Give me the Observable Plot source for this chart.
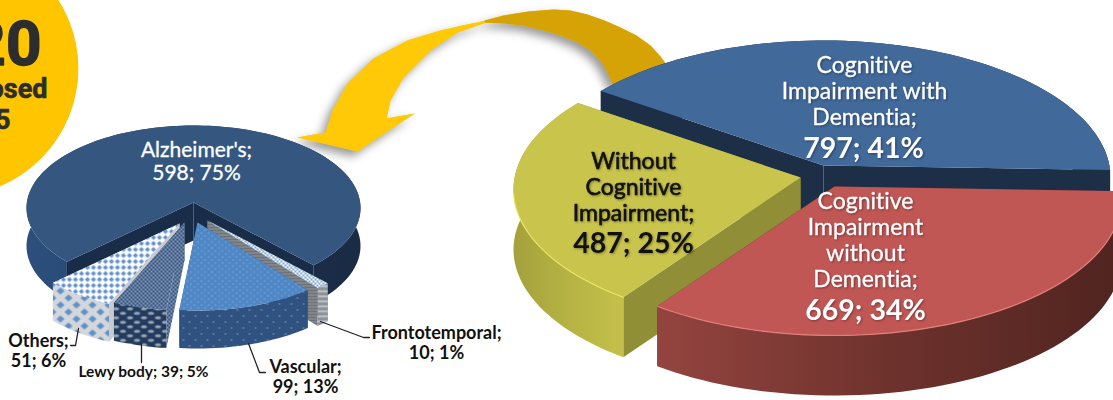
<!DOCTYPE html>
<html>
<head>
<meta charset="utf-8">
<script src="https://cdn.jsdelivr.net/npm/d3@7"></script>
<script src="https://cdn.jsdelivr.net/npm/@observablehq/plot@0.6"></script>
<style>
html,body{margin:0;padding:0;background:#fff;overflow:hidden;width:1113px;height:400px}
svg{display:block}
text{font-variant-ligatures:none}
</style>
</head>
<body>
<div id="chart"></div>
<script>
// ---- data ----
const cognitionNames = ["Cognitive\nImpairment with\nDementia;", "Cognitive\nImpairment\nwithout\nDementia;", "Without\nCognitive\nImpairment;"];
const cognitionValues = [797, 669, 487];
const cognitionPercents = [41, 34, 25];

const dementiaNames = ["Alzheimer's", "Frontotemporal", "Vascular", "Lewy body", "Others"];
const dementiaValues = [598, 10, 99, 39, 51];
const dementiaPercents = [75, 1, 13, 5, 6];

const badgeLines = ["20", "osed", "5"];

// ---- layout ----
const FONT = "Lato, 'Open Sans', sans-serif";
const BADGE = "'Liberation Sans Narrow', Roboto, sans-serif";
const rightPie = {rx: 287, ry: 137, off: 12, depth: 60, start: -145,
  slices: [
    {cx: 823, ay: 165, face: "#41699a", wall: "#1c2f47", cut: "#1c2f47", rim: null},
    {cx: 834, ay: 186, face: "#c05755", wall: "url(#gRed)", cut: "#5a2a26", rim: "#e27f7a"},
    {cx: 800, ay: 177, face: "#c9c44c", wall: "url(#gYel)", cut: "#908e37", rim: "#ebe564"}
  ],
  order: [0, 2, 1]};
const leftPie = {rx: 167, ry: 82.5, off: 5.5, depth: 38, start: 136.5,
  slices: [
    {cx: 193, ay: 202, face: "#35577f", wall: "url(#gAlz)", cut: "#1a2d48", rim: null},
    {cx: 207, ay: 220, face: "url(#pFrontF)", wall: "url(#pFrontS)", cut: "url(#pFrontC)", rim: null},
    {cx: 197, ay: 222, face: "url(#pVascF)", wall: "url(#pVascS)", cut: "#2e5180", rim: null},
    {cx: 184, ay: 222, face: "url(#pLewyF)", wall: "url(#pLewyS)", cut: "url(#pLewyF)", rim: null},
    {cx: 179, ay: 223, face: "url(#pOthF)", wall: "url(#pOthS)", cut: "#c9cbce", rim: null}
  ],
  order: [0, 4, 3, 1, 2]};

// point of the slanted rim seen from a slice's apex
function rimPoint(p, s, deg) {
  const a = deg * Math.PI / 180, u = Math.cos(a), v = Math.sin(a), o = p.off / p.ry;
  const t = v * o + Math.sqrt(v * v * o * o + 1 - o * o);
  return {x: s.cx + t * p.rx * u, y: s.ay + t * p.ry * v};
}
function arc(p, s, a0, a1) {
  const n = Math.max(2, Math.ceil(Math.abs(a1 - a0) / 2));
  return d3.range(n + 1).map(i => rimPoint(p, s, a0 + (a1 - a0) * i / n));
}
const down = (pts, d) => pts.map(q => ({x: q.x, y: q.y + d}));
const poly = (pts, fill, o = {}) => Plot.line(pts, {x: "x", y: "y", fill, stroke: o.stroke ?? "none", strokeWidth: o.strokeWidth ?? 0.6, ...o});

function pieMarks(p, values) {
  const total = d3.sum(values);
  let acc = p.start;
  const spans = values.map(v => { const a0 = acc; acc += v / total * 360; return [a0, acc]; });
  const order = p.order ?? values.map((_, i) => i);
  return order.flatMap(i => {
    const s = p.slices[i], [a0, a1] = spans[i];
    const rim = arc(p, s, a0, a1), apex = {x: s.cx, y: s.ay};
    const wall = [...rim, ...down(rim, p.depth).reverse()];
    const cut = q => [apex, q, {x: q.x, y: q.y + p.depth}, {x: apex.x, y: apex.y + p.depth}];
    const marks = [
      poly(cut(rim[0]), s.cut),
      poly(cut(rim[rim.length - 1]), s.cut),
      poly(wall, s.wall),
      poly([apex, ...rim], s.face)
    ];
    if (s.rim) {
      const front = rim.filter(q => q.y > s.ay + 15);
      marks.push(Plot.line(front, {x: "x", y: "y", stroke: s.rim, strokeWidth: 1.2}));
    }
    return marks;
  });
}

const defs = () => {
  const g = document.createElementNS("http://www.w3.org/2000/svg", "defs");
  g.innerHTML = `
  <linearGradient id="gRed"><stop offset="0" stop-color="#94443f"/><stop offset="0.5" stop-color="#6e322d"/><stop offset="1" stop-color="#50241f"/></linearGradient>
  <linearGradient id="gYel"><stop offset="0" stop-color="#a4a13c"/><stop offset="0.5" stop-color="#b6b344"/><stop offset="1" stop-color="#c4c04a"/></linearGradient>
  <linearGradient id="gAlz"><stop offset="0" stop-color="#2c4f7d"/><stop offset="0.3" stop-color="#28466e"/><stop offset="0.8" stop-color="#1b2d47"/><stop offset="1" stop-color="#1a2b44"/></linearGradient>
  <pattern id="pVascF" width="7" height="6" patternUnits="userSpaceOnUse"><rect width="7" height="6" fill="#4f86c5"/><circle cx="1.5" cy="1.5" r=".7" fill="#8db7e0"/><circle cx="5" cy="4.5" r=".7" fill="#8db7e0"/></pattern>
  <pattern id="pVascS" width="12" height="12" patternUnits="userSpaceOnUse"><rect width="12" height="12" fill="#2f5281"/><rect x="2" y="3" width="2" height="1" fill="#8898ab"/><rect x="8" y="9" width="2" height="1" fill="#8898ab"/></pattern>
  <pattern id="pOthF" width="6" height="6" patternUnits="userSpaceOnUse"><rect width="6" height="6" fill="#fff"/><path d="M3 0.4L5.6 3L3 5.6L0.4 3Z" fill="#5c8fca"/></pattern>
  <pattern id="pOthS" width="16" height="14" patternUnits="userSpaceOnUse"><rect width="16" height="14" fill="#d3d6da"/><path d="M4 0L8 3.5L4 7L0 3.5Z M12 7L16 10.5L12 14L8 10.5Z" fill="#5f90c8"/></pattern>
  <pattern id="pLewyF" width="4" height="4" patternUnits="userSpaceOnUse"><rect width="4" height="4" fill="#32527f"/><circle cx="1" cy="1" r=".8" fill="#e8eef5"/><circle cx="3" cy="3" r=".8" fill="#e8eef5"/></pattern>
  <pattern id="pLewyS" width="14" height="9" patternUnits="userSpaceOnUse"><rect width="14" height="9" fill="#233b5c"/><ellipse cx="3.5" cy="2.3" rx="3" ry="1.5" fill="#9aa7b8"/><ellipse cx="10.5" cy="6.8" rx="3" ry="1.5" fill="#9aa7b8"/></pattern>
  <pattern id="pFrontF" width="4" height="4" patternUnits="userSpaceOnUse"><rect width="4" height="4" fill="#fff"/><rect width="2" height="2" fill="#7fa7d6"/><rect x="2" y="2" width="2" height="2" fill="#7fa7d6"/></pattern>
  <pattern id="pFrontS" width="4" height="5" patternUnits="userSpaceOnUse"><rect width="4" height="5" fill="#8c9298"/><rect width="4" height="1.6" fill="#c7cdd4"/></pattern>
  <pattern id="pFrontC" width="3" height="3" patternUnits="userSpaceOnUse"><rect width="3" height="3" fill="#6d7277"/><rect width="3" height="1" fill="#92979c"/></pattern>`;
  return g;
};

// curved arrow outline
const toXY = a => a.map(([x, y]) => ({x, y}));
const arrowGold = toXY([[484,20],[503,15],[528,11],[553,9],[570,10],[587,14],[604,20],[620,27],[636,35],[650,45],[660,56],[669,68],[613,86],[607,72],[600,60],[590,50],[577,42],[560,35],[543,30],[522,25],[503,23],[484,22]]);
const arrowYellow = toXY([[486,20],[462,25],[440,30],[407,40],[373,58],[347,83],[332,110],[325,132],[297,137],[357,151],[414,113],[386,118],[390,100],[403,77],[430,50],[457,32],[486,22]]);

const rightNamePos = [{x: 864, y: 90}, {x: 865, y: 239}, {x: 633, y: 186}];
const rightValuePos = [{x: 863, y: 148}, {x: 865, y: 310}, {x: 633, y: 243}];
const rightColors = ["#fff", "#fff", "#111"];
const rightStrokes = [0.3, 0.3, 0.6];

const rightNames = cognitionNames.map((t, i) => ({t, ...rightNamePos[i], c: rightColors[i], w: rightStrokes[i]}));
const rightValues = cognitionValues.map((v, i) => ({t: `${v}; ${cognitionPercents[i]}%`, ...rightValuePos[i], c: rightColors[i]}));
const dementiaLabel = i => `${dementiaNames[i]};\n${dementiaValues[i]}; ${dementiaPercents[i]}%`;
const leftLabels = [
  {t: dementiaLabel(1), x: 436, y: 342},
  {t: dementiaLabel(2), x: 305, y: 376},
  {t: dementiaLabel(4), x: 38, y: 350}
];
const lewyLabel = [{t: `${dementiaNames[3]}; ${dementiaValues[3]}; ${dementiaPercents[3]}%`, x: 143, y: 372}];
const leaders = [
  [[320,321],[363,337],[369,337]],
  [[248,343],[259,372],[265,372]],
  [[141,343],[141,362]],
  [[78,328],[75,345],[70,345]]
];

const chart = Plot.plot({
  width: 1113, height: 400, margin: 0,
  x: {domain: [0, 1113], range: [0, 1113], axis: null},
  y: {domain: [0, 400], range: [0, 400], axis: null},
  style: {background: "#fff"},
  color: {type: "identity"},
  marks: [
    defs,
    Plot.dot([{x: -50, y: 68}], {x: "x", y: "y", r: 127.4, fill: "#ffc600", stroke: "#f9c20a", strokeWidth: 1}),
    Plot.text([{t: badgeLines[0], x: 41, y: 45}], {x: "x", y: "y", text: "t", textAnchor: "end", fill: "#2d2d2d", fontSize: 62, fontWeight: 700, fontFamily: BADGE, stroke: "#2d2d2d", strokeWidth: 1.5}),
    Plot.text([{t: badgeLines[1], x: 47, y: 89}], {x: "x", y: "y", text: "t", textAnchor: "end", fill: "#2d2d2d", fontSize: 27, fontWeight: 700, fontFamily: BADGE, stroke: "#2d2d2d", strokeWidth: 0.6}),
    Plot.text([{t: badgeLines[2], x: 10, y: 120}], {x: "x", y: "y", text: "t", textAnchor: "end", fill: "#2d2d2d", fontSize: 27, fontWeight: 700, fontFamily: BADGE, stroke: "#2d2d2d", strokeWidth: 0.6}),
    poly([...arrowYellow, ...arrowGold], "#ffc907", {imageFilter: "drop-shadow(-5px 5px 5px rgba(0,0,0,.4))"}),
    poly(arrowYellow, "#ffc907"),
    poly(arrowGold, "#d6a306"),
    ...pieMarks(leftPie, dementiaValues),
    ...pieMarks(rightPie, cognitionValues),
    ...leaders.map(l => Plot.line(toXY(l), {x: "x", y: "y", stroke: "#222", strokeWidth: 1.3})),
    Plot.text([{t: dementiaLabel(0), x: 196, y: 161}], {x: "x", y: "y", text: "t", fill: "#fff", stroke: "#fff", strokeWidth: 0.3, fontSize: 21, lineHeight: 1.1, fontFamily: FONT}),
    Plot.text(leftLabels, {x: "x", y: "y", text: "t", fill: "#111", fontSize: 18, fontWeight: 700, lineHeight: 1.13, fontFamily: FONT}),
    Plot.text(lewyLabel, {x: "x", y: "y", text: "t", fill: "#111", fontSize: 15.5, fontWeight: 700, fontFamily: FONT}),
    Plot.text(rightNames, {x: "x", y: "y", text: "t", fill: "c", stroke: "c", strokeWidth: d => d.w, fontSize: 23, lineHeight: 1.13, fontFamily: FONT, imageFilter: "drop-shadow(1px 1px 1px rgba(0,0,0,.35))"}),
    Plot.text(rightValues, {x: "x", y: "y", text: "t", fill: "c", fontSize: 28.5, fontWeight: 700, fontFamily: FONT, imageFilter: "drop-shadow(1px 1px 1px rgba(0,0,0,.35))"})
  ]
});
document.getElementById("chart").append(chart);
</script>
</body>
</html>
